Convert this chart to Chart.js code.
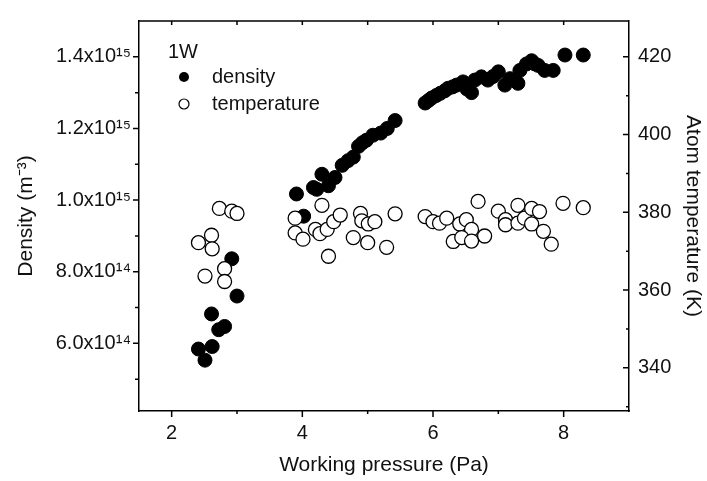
<!DOCTYPE html>
<html><head><meta charset="utf-8">
<script src="https://cdn.jsdelivr.net/npm/chart.js@4/dist/chart.umd.min.js"></script>
<style>html,body{margin:0;padding:0;background:#fff;}</style>
</head><body>
<canvas id="c" width="707" height="481"></canvas>
<script>
// ---- data ----
const seriesNames = ['density', 'temperature'];
const legendTitle = '1W';
const xTitle = 'Working pressure (Pa)';
const leftTitle = 'Density (m\u207B\u00B3)';
const rightTitle = 'Atom temperature (K)';

const densityPressure = [2.41, 2.51, 2.62, 2.61, 2.72, 2.81, 2.92, 3.00,
  3.91, 4.02, 4.17, 4.22, 4.30, 4.40, 4.50, 4.61, 4.70, 4.78, 4.86, 4.92, 4.98, 5.08, 5.20, 5.30, 5.42,
  5.88, 5.93, 5.98, 6.05, 6.11, 6.18, 6.23, 6.30, 6.36, 6.46, 6.52, 6.59, 6.64, 6.74, 6.84, 6.92, 7.00,
  7.10, 7.18, 7.30, 7.33, 7.43, 7.51, 7.56, 7.61, 7.71, 7.84, 8.02, 8.30];
const densityValues = [5.84e14, 5.53e14, 5.91e14, 6.82e14, 6.38e14, 6.47e14, 8.36e14, 7.32e14,
  1.017e15, 0.955e15, 1.035e15, 1.030e15, 1.072e15, 1.040e15, 1.063e15, 1.097e15, 1.110e15, 1.120e15, 1.150e15, 1.160e15, 1.167e15, 1.181e15, 1.187e15, 1.200e15, 1.222e15,
  1.271e15, 1.278e15, 1.285e15, 1.292e15, 1.298e15, 1.305e15, 1.312e15, 1.316e15, 1.321e15, 1.330e15, 1.310e15, 1.300e15, 1.335e15, 1.344e15, 1.335e15, 1.345e15, 1.358e15,
  1.321e15, 1.339e15, 1.326e15, 1.362e15, 1.380e15, 1.389e15, 1.380e15, 1.376e15, 1.362e15, 1.362e15, 1.405e15, 1.405e15];

const temperaturePressure = [2.73, 2.92, 3.00, 2.61, 2.41, 2.62, 2.51, 2.81, 2.81,
  3.89, 3.89, 4.01, 4.30, 4.20, 4.27, 4.38, 4.48, 4.58, 4.40, 4.89, 4.91, 5.01, 5.11, 4.78, 5.00, 5.29, 5.42,
  5.88, 6.00, 6.10, 6.21, 6.41, 6.51, 6.59, 6.31, 6.44, 6.59, 6.79, 6.69, 7.00, 7.11, 7.11, 7.30, 7.30, 7.40, 7.51, 7.63, 7.51, 7.69, 7.81, 7.99, 8.30];
const temperatureValues = [381.0, 380.3, 379.7, 374.1, 372.2, 370.6, 363.6, 365.5, 362.2,
  378.5, 374.7, 373.1, 381.8, 375.6, 374.5, 375.6, 377.6, 379.3, 368.7, 379.7, 377.8, 377.0, 377.6, 373.5, 372.2, 371.0, 379.6,
  378.9, 377.6, 377.2, 378.5, 377.0, 378.1, 375.6, 372.5, 373.5, 372.6, 373.9, 382.8, 380.3, 378.1, 376.8, 381.8, 377.2, 378.5, 381.0, 380.2, 377.0, 375.1, 371.8, 382.3, 381.2];

const xTickValues = [2, 3, 4, 5, 6, 7, 8];
const xTickLabels = ['2', '', '4', '', '6', '', '8'];
const densityTickValues = [5e14, 6e14, 7e14, 8e14, 9e14, 1.0e15, 1.1e15, 1.2e15, 1.3e15, 1.4e15];
const densityTickLabels = ['', '6.0x10\u00B9\u2074', '', '8.0x10\u00B9\u2074', '', '1.0x10\u00B9\u2075', '', '1.2x10\u00B9\u2075', '', '1.4x10\u00B9\u2075'];
const tempTickValues = [330, 340, 350, 360, 370, 380, 390, 400, 410, 420];
const tempTickLabels = ['', '340', '', '360', '', '380', '', '400', '', '420'];

// ---- chart ----
const FONT = '"Liberation Sans", Arial, sans-serif';
const TXT = '#111';

function labelFor(values, labels, v) {
  const i = values.findIndex(t => Math.abs(t - v) < Math.abs(v) * 1e-9 + 1e-9);
  return i >= 0 ? labels[i] : '';
}

const decor = {
  id: 'decor',
  afterDraw(chart) {
    const ctx = chart.ctx, ca = chart.chartArea;
    const xs = chart.scales.x, yl = chart.scales.y, yr = chart.scales.y1;
    ctx.save();
    ctx.strokeStyle = '#000';
    ctx.lineWidth = 1.5;
    ctx.beginPath();
    ctx.moveTo(ca.left, ca.top); ctx.lineTo(ca.right, ca.top);
    xs.ticks.forEach(t => {
      const px = xs.getPixelForValue(t.value);
      const major = labelFor(xTickValues, xTickLabels, t.value) !== '';
      ctx.moveTo(px, ca.bottom); ctx.lineTo(px, ca.bottom + (major ? 6 : 3));
      ctx.moveTo(px, ca.top); ctx.lineTo(px, ca.top + 4);
    });
    yl.ticks.forEach(t => {
      const py = yl.getPixelForValue(t.value);
      const major = labelFor(densityTickValues, densityTickLabels, t.value) !== '';
      ctx.moveTo(ca.left - (major ? 6 : 4), py); ctx.lineTo(ca.left, py);
    });
    yr.ticks.forEach(t => {
      const py = yr.getPixelForValue(t.value);
      const major = labelFor(tempTickValues, tempTickLabels, t.value) !== '';
      ctx.moveTo(ca.right - (major ? 6 : 3), py); ctx.lineTo(ca.right, py);
    });
    ctx.stroke();

    // legend
    ctx.font = '20px ' + FONT;
    ctx.fillStyle = TXT;
    ctx.textBaseline = 'middle';
    ctx.textAlign = 'left';
    const lx = ca.left + 29, ly = ca.top + 31;
    ctx.fillText(legendTitle, lx, ly);
    ctx.beginPath(); ctx.arc(ca.left + 45, ca.top + 56, 5, 0, Math.PI * 2);
    ctx.fillStyle = '#000'; ctx.fill();
    ctx.beginPath(); ctx.arc(ca.left + 45, ca.top + 83, 5, 0, Math.PI * 2);
    ctx.fillStyle = '#fff'; ctx.fill(); ctx.lineWidth = 1.2; ctx.strokeStyle = '#000'; ctx.stroke();
    ctx.fillStyle = TXT;
    ctx.fillText(seriesNames[0], ca.left + 73, ca.top + 56);
    ctx.fillText(seriesNames[1], ca.left + 73, ca.top + 83);
    ctx.restore();
  }
};

new Chart(document.getElementById('c'), {
  type: 'scatter',
  data: {
    datasets: [
      {
        label: seriesNames[0],
        data: densityPressure.map((x, i) => ({x, y: densityValues[i]})),
        yAxisID: 'y',
        pointRadius: 7, pointHoverRadius: 7,
        backgroundColor: '#000', borderColor: '#000', borderWidth: 1,
        order: 1
      },
      {
        label: seriesNames[1],
        data: temperaturePressure.map((x, i) => ({x, y: temperatureValues[i]})),
        yAxisID: 'y1',
        pointRadius: 7, pointHoverRadius: 7,
        backgroundColor: '#fff', borderColor: '#000', borderWidth: 1.3,
        order: 0
      }
    ]
  },
  options: {
    responsive: false,
    animation: false,
    events: [],
    layout: { padding: { top: 11, left: 0, right: 0, bottom: 0 } },
    plugins: { legend: { display: false }, tooltip: { enabled: false } },
    scales: {
      x: {
        type: 'linear', position: 'bottom', min: 1.5, max: 9,
        afterBuildTicks: s => { s.ticks = xTickValues.map(v => ({value: v})); },
        afterFit: s => { s.height = 70; },
        ticks: { autoSkip: false, maxRotation: 0, padding: 10, color: TXT, font: { family: FONT, size: 20 },
          callback: v => labelFor(xTickValues, xTickLabels, v) },
        grid: { display: false, drawTicks: false },
        border: { display: true, color: '#000', width: 1.5 },
        title: { display: true, text: xTitle, color: TXT, font: { family: FONT, size: 21 }, padding: { top: 3, bottom: 3 } }
      },
      y: {
        type: 'linear', position: 'left', min: 4.11e14, max: 1.5e15,
        afterBuildTicks: s => { s.ticks = densityTickValues.map(v => ({value: v})); },
        afterFit: s => { s.width = 139; },
        ticks: { autoSkip: false, padding: 8, color: TXT, font: { family: FONT, size: 20 },
          callback: v => labelFor(densityTickValues, densityTickLabels, v) },
        grid: { display: false, drawTicks: false },
        border: { display: true, color: '#000', width: 1.5 },
        title: { display: true, text: leftTitle, color: TXT, font: { family: FONT, size: 21 }, padding: { top: 14, bottom: 0 } }
      },
      y1: {
        type: 'linear', position: 'right', min: 328.9, max: 429.2,
        afterBuildTicks: s => { s.ticks = tempTickValues.map(v => ({value: v})); },
        afterFit: s => { s.width = 78; },
        ticks: { autoSkip: false, padding: 9, color: TXT, font: { family: FONT, size: 20 },
          callback: v => labelFor(tempTickValues, tempTickLabels, v) },
        grid: { display: false, drawTicks: false },
        border: { display: true, color: '#000', width: 1.5 },
        title: { display: true, text: rightTitle, color: TXT, font: { family: FONT, size: 21 }, padding: { top: 2, bottom: 0 } }
      }
    }
  },
  plugins: [decor]
});
</script>
</body></html>
